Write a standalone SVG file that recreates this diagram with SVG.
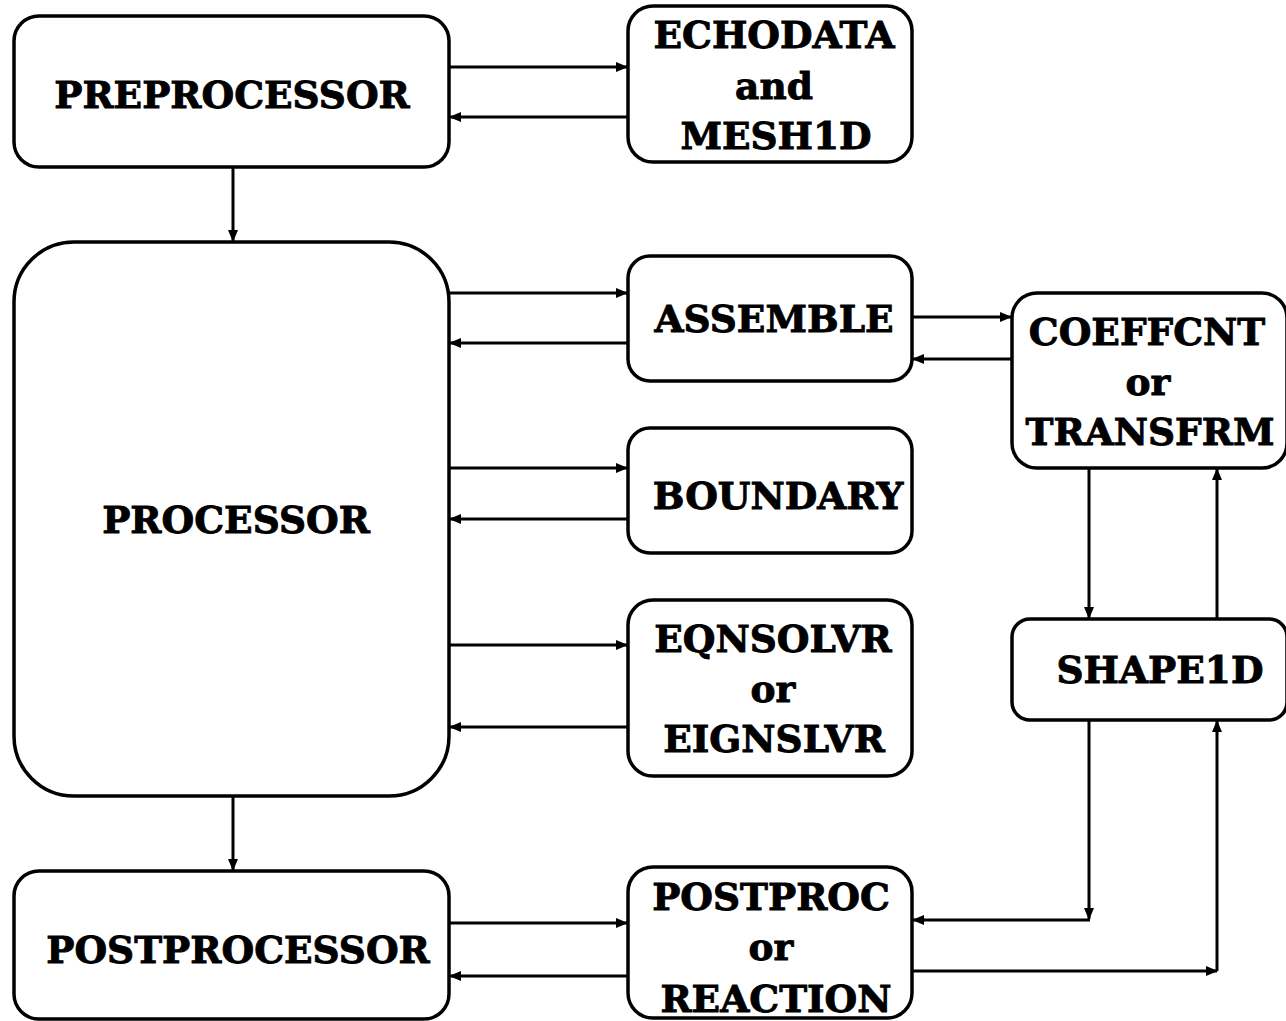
<svg xmlns="http://www.w3.org/2000/svg" width="1286" height="1021" viewBox="0 0 1286 1021">
<defs>
<style>
.box{fill:#fff;stroke:#000;stroke-width:3.5}
.t{font-family:"DejaVu Serif","Liberation Serif",serif;font-weight:bold;font-size:37.5px;fill:#000;stroke:#000;stroke-width:0.9;text-anchor:middle}
.c{fill:none;stroke:#000;stroke-width:3}
</style>
<marker id="ah" markerUnits="userSpaceOnUse" markerWidth="12" markerHeight="10" refX="11" refY="5" orient="auto">
<path d="M0,0 L12,5 L0,10 Z" fill="#000"/>
</marker>
</defs>
<rect width="1286" height="1021" fill="#fff"/>
<g id="connectors">
<line class="c" x1="449" y1="67" x2="627" y2="67" marker-end="url(#ah)"/>
<line class="c" x1="628" y1="117" x2="450" y2="117" marker-end="url(#ah)"/>
<line class="c" x1="233" y1="167" x2="233" y2="241" marker-end="url(#ah)"/>
<line class="c" x1="449" y1="293" x2="627" y2="293" marker-end="url(#ah)"/>
<line class="c" x1="628" y1="343" x2="450" y2="343" marker-end="url(#ah)"/>
<line class="c" x1="912" y1="317" x2="1011" y2="317" marker-end="url(#ah)"/>
<line class="c" x1="1012" y1="359" x2="913" y2="359" marker-end="url(#ah)"/>
<line class="c" x1="449" y1="468" x2="627" y2="468" marker-end="url(#ah)"/>
<line class="c" x1="628" y1="519" x2="450" y2="519" marker-end="url(#ah)"/>
<line class="c" x1="449" y1="645" x2="627" y2="645" marker-end="url(#ah)"/>
<line class="c" x1="628" y1="727" x2="450" y2="727" marker-end="url(#ah)"/>
<line class="c" x1="233" y1="796" x2="233" y2="870" marker-end="url(#ah)"/>
<line class="c" x1="449" y1="923" x2="627" y2="923" marker-end="url(#ah)"/>
<line class="c" x1="628" y1="976" x2="450" y2="976" marker-end="url(#ah)"/>
<line class="c" x1="1089" y1="468" x2="1089" y2="618" marker-end="url(#ah)"/>
<line class="c" x1="1217" y1="619" x2="1217" y2="469" marker-end="url(#ah)"/>
<line class="c" x1="1089" y1="720" x2="1089" y2="919" marker-end="url(#ah)"/>
<line class="c" x1="1090" y1="920" x2="913" y2="920" marker-end="url(#ah)"/>
<line class="c" x1="912" y1="971" x2="1217" y2="971" marker-end="url(#ah)"/>
<line class="c" x1="1217" y1="971" x2="1217" y2="721" marker-end="url(#ah)"/>
</g>
<g id="preprocessor">
<rect class="box" x="14" y="16" width="435" height="151" rx="25"/>
<text class="t" x="232" y="108">PREPROCESSOR</text>
</g>
<g id="echodata">
<rect class="box" x="628" y="6" width="284" height="156" rx="25"/>
<text class="t" x="774" y="48">ECHODATA</text>
<text class="t" x="774" y="99">and</text>
<text class="t" x="776" y="149">MESH1D</text>
</g>
<g id="processor">
<rect class="box" x="14" y="242" width="435" height="554" rx="60"/>
<text class="t" x="236" y="533">PROCESSOR</text>
</g>
<g id="assemble">
<rect class="box" x="628" y="256" width="284" height="125" rx="22"/>
<text class="t" x="774" y="332">ASSEMBLE</text>
</g>
<g id="coeffcnt">
<rect class="box" x="1012" y="293" width="275" height="175" rx="25"/>
<text class="t" x="1147" y="345">COEFFCNT</text>
<text class="t" x="1148" y="395">or</text>
<text class="t" x="1150" y="445">TRANSFRM</text>
</g>
<g id="boundary">
<rect class="box" x="628" y="428" width="284" height="125" rx="22"/>
<text class="t" x="778" y="509">BOUNDARY</text>
</g>
<g id="eqnsolvr">
<rect class="box" x="628" y="600" width="284" height="176" rx="25"/>
<text class="t" x="773" y="652">EQNSOLVR</text>
<text class="t" x="773" y="702">or</text>
<text class="t" x="774" y="752">EIGNSLVR</text>
</g>
<g id="shape1d">
<rect class="box" x="1012" y="619" width="275" height="101" rx="18"/>
<text class="t" x="1160" y="683">SHAPE1D</text>
</g>
<g id="postprocessor">
<rect class="box" x="14" y="871" width="435" height="148" rx="25"/>
<text class="t" x="238" y="963">POSTPROCESSOR</text>
</g>
<g id="postproc">
<rect class="box" x="628" y="867" width="284" height="151" rx="25"/>
<text class="t" x="771" y="910">POSTPROC</text>
<text class="t" x="771" y="960">or</text>
<text class="t" x="776" y="1012">REACTION</text>
</g>
</svg>
